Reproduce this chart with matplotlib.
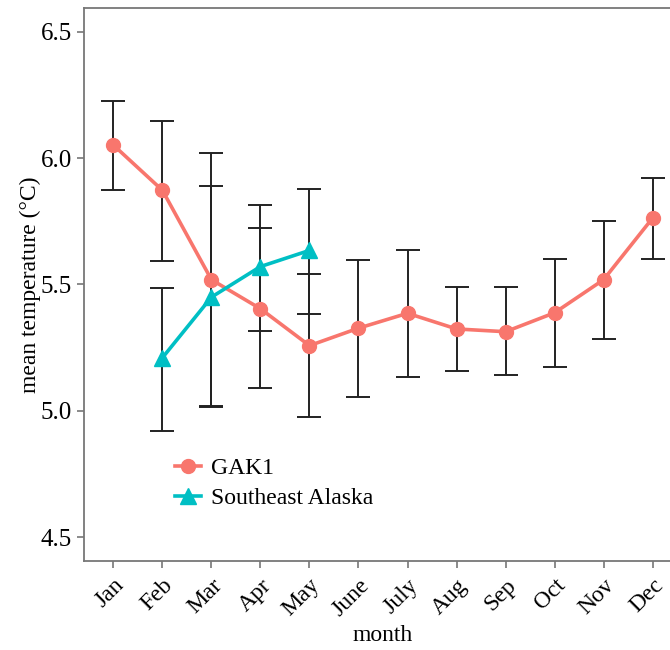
# -*- coding: utf-8 -*-
import matplotlib
matplotlib.use('Agg')
import matplotlib.pyplot as plt

# 数据
months = ['Jan', 'Feb', 'Mar', 'Apr', 'May', 'June', 'July', 'Aug', 'Sep', 'Oct', 'Nov', 'Dec']
gak1_mean = [6.052, 5.873, 5.519, 5.404, 5.258, 5.327, 5.386, 5.324, 5.313, 5.388, 5.519, 5.763]
gak1_hi = [6.227, 6.148, 6.019, 5.725, 5.542, 5.598, 5.638, 5.489, 5.489, 5.602, 5.751, 5.923]
gak1_lo = [5.873, 5.595, 5.020, 5.090, 4.977, 5.056, 5.132, 5.159, 5.143, 5.175, 5.283, 5.600]

se_months = ['Feb', 'Mar', 'Apr', 'May']
se_mean = [5.210, 5.450, 5.571, 5.635]
se_hi = [5.485, 5.889, 5.816, 5.877]
se_lo = [4.920, 5.016, 5.317, 5.384]

plt.rcParams['font.family'] = ['Liberation Serif', 'DejaVu Serif']

fig = plt.figure(figsize=(6.7, 6.5), dpi=100)
# 右边被裁掉一截，所以坐标轴伸出画布
ax = fig.add_axes([84 / 670, 89 / 650, 598 / 670, 553 / 650])

x = list(range(1, 13))
xs = [months.index(m) + 1 for m in se_months]

def err(mean, hi, lo):
    return [[m - l for m, l in zip(mean, lo)], [h - m for h, m in zip(hi, mean)]]

ax.errorbar(x, gak1_mean, yerr=err(gak1_mean, gak1_hi, gak1_lo), fmt='none',
            ecolor='#222222', elinewidth=1.4, capsize=8.8, capthick=1.4, zorder=2)
ax.errorbar(xs, se_mean, yerr=err(se_mean, se_hi, se_lo), fmt='none',
            ecolor='#222222', elinewidth=1.4, capsize=8.8, capthick=1.4, zorder=2)

ax.plot(x, gak1_mean, color='#F8766D', lw=2.6, marker='o', ms=10, label='GAK1', zorder=3)
ax.plot(xs, se_mean, color='#00BFC4', lw=2.6, marker='^', ms=11, label='Southeast Alaska', zorder=3)

ax.set_xlim(0.4, 12.6)
ax.set_ylim(4.405, 6.595)
ax.set_xticks(x)
ax.set_xticklabels(months, rotation=45, ha='right', rotation_mode='anchor')
ax.set_yticks([4.5, 5.0, 5.5, 6.0, 6.5])
ax.set_yticklabels(['4.5', '5.0', '5.5', '6.0', '6.5'])
ax.tick_params(labelsize=18, color='#777777', length=5, width=1.2)
ax.tick_params(axis='x', labelsize=17, pad=5)

for s in ax.spines.values():
    s.set_color('#777777')
    s.set_linewidth(1.3)
ax.spines['right'].set_visible(False)

ax.set_xlabel('month', fontsize=17, labelpad=3)
ax.set_ylabel('mean temperature (°C)', fontsize=17, labelpad=0)

ax.legend(loc='upper left', bbox_to_anchor=(0.117, 0.225), frameon=False,
          fontsize=17, handlelength=1.1, labelspacing=0.35, handletextpad=0.4)

fig.savefig('out.png', dpi=100)
